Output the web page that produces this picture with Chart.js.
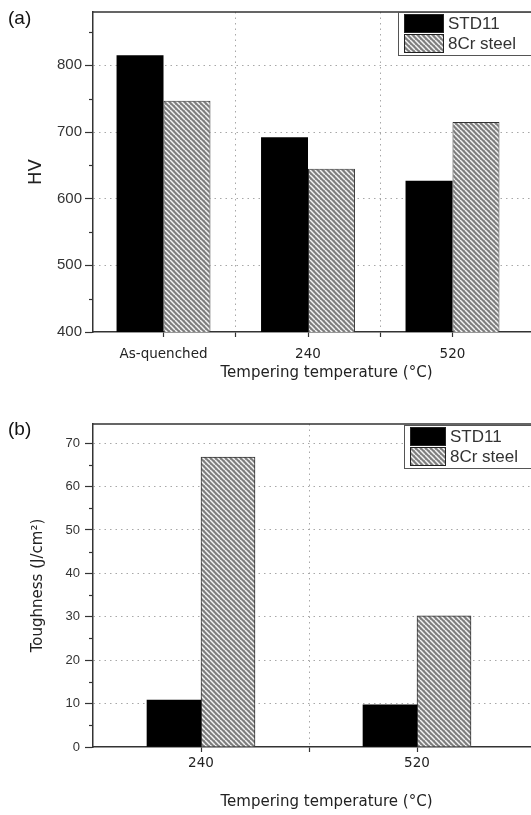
<!DOCTYPE html>
<html><head><meta charset="utf-8">
<script src="https://cdn.jsdelivr.net/npm/chart.js@4.4.0/dist/chart.umd.min.js"></script>
<style>
html,body{margin:0;padding:0;background:#fff;overflow:hidden;width:531px;height:815px;}
#wrapA{position:absolute;left:0;top:0;width:560px;height:400px;}
#wrapB{position:absolute;left:0;top:400px;width:560px;height:415px;}
.panel{position:absolute;left:8px;font:19px "Liberation Sans",Arial,sans-serif;color:#111;}
</style></head><body>
<div id="wrapA"><canvas id="cA" width="560" height="400"></canvas></div>
<div id="wrapB"><canvas id="cB" width="560" height="415"></canvas></div>
<div class="panel" style="top:7px">(a)</div>
<div class="panel" style="top:418px">(b)</div>
<script>
// ---- data ----
const seriesNames = ['STD11', '8Cr steel'];
const hvCategories = ['As-quenched', '240', '520'];
const hvSTD11 = [815, 692, 627];
const hv8Cr = [747, 645, 715];
const hvTicks = [400, 500, 600, 700, 800];
const hvMinorTicks = [450, 550, 650, 750, 850];
const toughCategories = ['240', '520'];
const toughSTD11 = [10.8, 9.7];
const tough8Cr = [66.8, 30.2];
const toughTicks = [0, 10, 20, 30, 40, 50, 60, 70];
const toughMinorTicks = [5, 15, 25, 35, 45, 55, 65];
const xTitle = 'Tempering temperature (°C)';

function makeHatch(ctx) {
  const s = 5;
  const c = document.createElement('canvas');
  c.width = s; c.height = s;
  const g = c.getContext('2d');
  g.fillStyle = '#7e7e7e'; g.fillRect(0, 0, s, s);
  g.strokeStyle = '#f4f4f4'; g.lineWidth = 1.5;
  for (const k of [-s, 0, s]) { g.beginPath(); g.moveTo(k, 0); g.lineTo(k + s, s); g.stroke(); }
  return ctx.createPattern(c, 'repeat');
}

const framePlugin = {
  id: 'frame',
  afterDraw(chart) {
    const ctx = chart.ctx, a = chart.chartArea, cfg = chart.$cfg;
    ctx.save();
    ctx.strokeStyle = '#333'; ctx.lineWidth = 1.5;
    ctx.beginPath(); ctx.moveTo(a.left, a.top); ctx.lineTo(a.right, a.top); ctx.lineTo(a.right, a.bottom); ctx.stroke();
    // minor ticks
    ctx.lineWidth = 1.2;
    for (const v of cfg.yMinor) {
      const y = Math.round(chart.scales.y.getPixelForValue(v)) + 0.5;
      ctx.beginPath(); ctx.moveTo(a.left - 4, y); ctx.lineTo(a.left, y); ctx.stroke();
    }
    // legend
    const L = cfg.legend;
    const x0 = a.left + L.dx, y0 = a.top + L.dy;
    ctx.fillStyle = '#fff'; ctx.fillRect(x0, y0, chart.width - x0, L.h);
    ctx.strokeStyle = '#555'; ctx.lineWidth = 1;
    ctx.strokeRect(x0 + 0.5, y0 + 0.5, chart.width, L.h);
    const ds = chart.data.datasets;
    const sx = x0 + 6, sw = L.sw, sh = (L.h - 5) / 2;
    ctx.font = '17px "Liberation Sans", Arial, sans-serif';
    ctx.textBaseline = 'middle'; ctx.textAlign = 'left';
    ds.forEach((d, i) => {
      const sy = y0 + 2 + i * (sh + 1);
      ctx.fillStyle = d.backgroundColor; ctx.fillRect(sx, sy, sw, sh);
      ctx.strokeStyle = '#222'; ctx.lineWidth = 1;
      ctx.strokeRect(sx + 0.5, sy + 0.5, sw - 1, sh - 1);
      ctx.fillStyle = '#333';
      ctx.fillText(d.label, sx + sw + 4, sy + sh / 2 + 1);
    });
    ctx.restore();
  }
};

function build(canvasId, cfg) {
  const el = document.getElementById(canvasId);
  const ctx = el.getContext('2d');
  const hatch = makeHatch(ctx);
  return new Chart(ctx, {
    type: 'bar',
    data: {
      datasets: [
        { label: seriesNames[0], data: cfg.a.map((v, i) => ({ x: i + 1, y: v })), backgroundColor: '#000', borderColor: '#000', borderWidth: 0 },
        { label: seriesNames[1], data: cfg.b.map((v, i) => ({ x: i + 1, y: v })), backgroundColor: hatch, borderColor: '#333', borderWidth: 1 }
      ]
    },
    options: {
      responsive: false, animation: false, devicePixelRatio: 1,
      layout: { padding: { top: cfg.top, left: 0, right: 0, bottom: 0 } },
      datasets: { bar: { categoryPercentage: cfg.catPct, barPercentage: 1 } },
      plugins: { legend: { display: false }, tooltip: { enabled: false } },
      scales: {
        x: {
          type: 'linear', bounds: 'data', offset: false, min: cfg.xmin, max: cfg.xmax,
          afterFit: s => { s.height = 68; },
          afterBuildTicks: s => { s.ticks = cfg.xTicks.map(v => ({ value: v })); },
          ticks: {
            autoSkip: false, maxRotation: 0, padding: cfg.xPad, color: '#222',
            font: { family: 'DejaVu Sans', size: 13.5 },
            callback: v => Number.isInteger(v) ? cfg.cats[v - 1] : ''
          },
          grid: {
            offset: false,
            color: c => (c.tick && !Number.isInteger(c.tick.value)) ? '#a8a8a8' : 'rgba(0,0,0,0)',
            lineWidth: 1, tickLength: 5, tickColor: '#333', tickWidth: 1.2, tickBorderDash: []
          },
          border: { color: '#333', width: 1.5, dash: [1.5, 4] },
          title: { display: true, text: xTitle, color: '#222', font: { family: 'DejaVu Sans', size: 15 }, padding: { top: 0, bottom: cfg.xTitlePad } }
        },
        y: {
          min: cfg.ymin, max: cfg.ymax,
          afterFit: s => { s.width = 93; },
          afterBuildTicks: s => { s.ticks = cfg.yTicks.map(v => ({ value: v })); },
          ticks: { padding: cfg.yPad, color: '#333', font: { family: 'Liberation Sans', size: cfg.yFont } },
          grid: {
            color: c => (c.tick && c.tick.value === cfg.ymin) ? 'rgba(0,0,0,0)' : '#a8a8a8',
            lineWidth: 1, tickLength: 8, tickColor: '#333', tickWidth: 1.2, tickBorderDash: []
          },
          border: { color: '#333', width: 1.5, dash: [1.5, 4] },
          title: { display: true, text: cfg.yTitle, color: '#222', font: { family: 'DejaVu Sans', size: cfg.yTitleSize }, padding: { top: cfg.yTitlePad, bottom: 0 } }
        }
      }
    },
    plugins: [framePlugin]
  });
}

// bar group width relative to the smallest tick spacing (0.5 unit)
const cfgA = {
  a: hvSTD11, b: hv8Cr, cats: hvCategories, top: 8, catPct: 1.3,
  xmin: 0.512, xmax: 3.744, xTicks: [1, 1.5, 2, 2.5, 3], xPad: 9, xTitlePad: 18,
  ymin: 400, ymax: 880, yTicks: hvTicks, yMinor: hvMinorTicks, yFont: 15, yPad: 3,
  yTitle: 'HV', yTitleSize: 18, yTitlePad: 26,
  legend: { dx: 305, dy: 0, h: 43, sw: 40 }
};
const cfgB = {
  a: toughSTD11, b: tough8Cr, cats: toughCategories, top: 24, catPct: 1.0,
  xmin: 0.5, xmax: 2.662, xTicks: [1, 1.5, 2], xPad: 3, xTitlePad: 4,
  ymin: 0, ymax: 74.4, yTicks: toughTicks, yMinor: toughMinorTicks, yFont: 13, yPad: 5,
  yTitle: 'Toughness (J/cm²)', yTitleSize: 15, yTitlePad: 29,
  legend: { dx: 311, dy: 1, h: 43, sw: 36 }
};

Chart.register({ id: 'attachCfg', beforeInit(chart) { chart.$cfg = chart.canvas.id === 'cA' ? cfgA : cfgB; } });

build('cA', cfgA);
build('cB', cfgB);
</script>
</body></html>
